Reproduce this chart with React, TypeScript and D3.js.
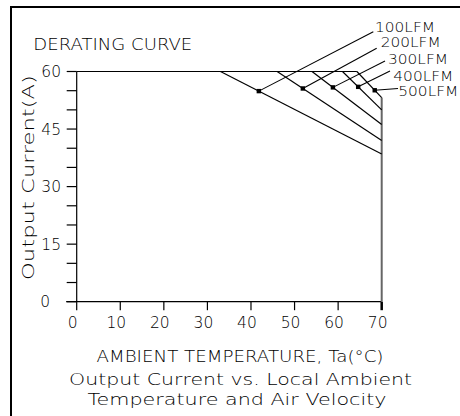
import React from "react";
import * as d3 from "d3";

// ---- data ----
const seriesNames = ["100LFM", "200LFM", "300LFM", "400LFM", "500LFM"];
const startTemp = [33, 46, 54, 61, 64.3]; // °C where derating begins (60 A)
const endCurrent = [38.5, 42, 46.2, 50, 53.2]; // A at 70 °C
const markerTemp = [41.8, 51.9, 58.8, 64.6, 68.4];
const leaderEndTemp = [68.07, 68.85, 70.76, 71.9, 73.74];
const leaderEndCurrent = [70.37, 66.04, 62.73, 60.1, 55.56];
const labelTemp = [68.46, 69.77, 71.45, 72.67, 73.81];
const labelCurrent = [70.37, 66.3, 61.87, 57.52, 53.69];
const xTicks = [0, 10, 20, 30, 40, 50, 60, 70];
const yTicks = [0, 15, 30, 45, 60];
const yMinorTicks = [5, 10, 20, 25, 35, 40, 50, 55];
const maxCurrent = 60;
const maxTemp = 70;

const W = 460;
const H = 416;
const FONT = "'DejaVu Sans ExtraLight', 'DejaVu Sans', sans-serif";

export default function App() {
  const x = d3.scaleLinear().domain([0, 70]).range([76.7, 381.7]);
  const y = d3.scaleLinear().domain([0, 60]).range([301.7, 71.5]);
  const line = d3
    .line<[number, number]>()
    .x((d) => x(d[0]))
    .y((d) => y(d[1]));

  const curAt = (i: number, t: number) =>
    maxCurrent -
    ((t - startTemp[i]) / (maxTemp - startTemp[i])) * (maxCurrent - endCurrent[i]);

  const last = seriesNames.length - 1;

  return (
    <svg
      width={W}
      height={H}
      style={{ position: "absolute", left: 0, top: 0, background: "#fff" }}
      fontFamily={FONT}
      fontWeight={200}
    >
      <rect x={0} y={0} width={W} height={H} fill="#fff" />
      {/* frame */}
      <rect x={11} y={7} width={600} height={600} fill="none" stroke="#000" strokeWidth={2} />

      {/* title */}
      <text x={33.3} y={50} fontSize={15.5} textLength={159} lengthAdjust="spacingAndGlyphs" fill="#000">
        DERATING CURVE
      </text>

      {/* y axis */}
      <line x1={x(0)} x2={x(0)} y1={y(0)} y2={y(60)} stroke="#000" strokeWidth={1.2} />
      {yTicks.concat(yMinorTicks).map((v) => (
        <line key={"yt" + v} x1={x(0) - 10} x2={x(0)} y1={y(v)} y2={y(v)} stroke="#000" strokeWidth={1.2} />
      ))}
      {yTicks.map((v) => (
        <text
          key={"yl" + v}
          x={v === 0 ? 50 : 61}
          y={y(v)}
          dy="0.36em"
          textAnchor="end"
          fontSize={15.5}
          fill="#000"
        >
          {v}
        </text>
      ))}
      <text
        transform={`translate(34,177.5) rotate(-90)`}
        textAnchor="middle"
        fontSize={15}
        textLength={205}
        lengthAdjust="spacingAndGlyphs"
        fill="#000"
      >
        Output Current(A)
      </text>

      {/* x axis */}
      <line x1={x(0) - 10.5} x2={x(70)} y1={y(0)} y2={y(0)} stroke="#000" strokeWidth={1.2} />
      {xTicks.map((v) => (
        <line
          key={"xt" + v}
          x1={x(v)}
          x2={x(v)}
          y1={y(0)}
          y2={y(0) + 8.5}
          stroke="#000"
          strokeWidth={v === 70 ? 2.5 : 1.2}
        />
      ))}
      {xTicks.map((v) => (
        <text key={"xl" + v} x={x(v) - 4} y={327.5} textAnchor="middle" fontSize={15.5} fill="#000">
          {v}
        </text>
      ))}
      <text x={240} y={361.7} textAnchor="middle" fontSize={15} textLength={287} lengthAdjust="spacingAndGlyphs" fill="#000">
        AMBIENT TEMPERATURE, Ta(°C)
      </text>
      <text x={240.6} y={385} textAnchor="middle" fontSize={16} textLength={343} lengthAdjust="spacingAndGlyphs" fill="#000">
        Output Current vs. Local Ambient
      </text>
      <text x={237} y={405} textAnchor="middle" fontSize={16} textLength={299} lengthAdjust="spacingAndGlyphs" fill="#000">
        Temperature and Air Velocity
      </text>

      {/* right edge at 70 °C */}
      <line x1={x(70)} x2={x(70)} y1={y(0)} y2={y(endCurrent[last])} stroke="#666" strokeWidth={2} />

      {/* flat 60 A line */}
      <path
        d={line([
          [0, maxCurrent],
          [startTemp[last], maxCurrent],
        ]) || ""}
        fill="none"
        stroke="#000"
        strokeWidth={1.2}
      />

      {/* derating lines */}
      {seriesNames.map((n, i) => (
        <path
          key={"dl" + n}
          d={line([
            [startTemp[i], maxCurrent],
            [maxTemp, endCurrent[i]],
          ]) || ""}
          fill="none"
          stroke="#000"
          strokeWidth={1.2}
        />
      ))}

      {/* leaders, markers and labels */}
      {seriesNames.map((n, i) => {
        const mx = x(markerTemp[i]);
        const my = y(curAt(i, markerTemp[i]));
        return (
          <g key={"lab" + n}>
            <line
              x1={mx}
              y1={my}
              x2={x(leaderEndTemp[i])}
              y2={y(leaderEndCurrent[i])}
              stroke="#000"
              strokeWidth={1.1}
            />
            <rect x={mx - 2.2} y={my - 2.2} width={4.4} height={4.4} fill="#000" />
            <text
              x={x(labelTemp[i])}
              y={y(labelCurrent[i])}
              fontSize={14}
              textLength={60}
              lengthAdjust="spacingAndGlyphs"
              fill="#000"
            >
              {n}
            </text>
          </g>
        );
      })}
    </svg>
  );
}
